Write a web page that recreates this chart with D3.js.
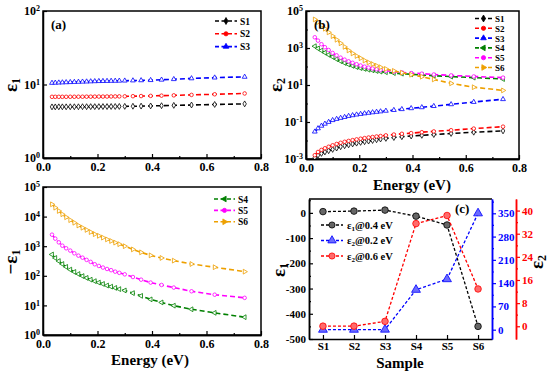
<!DOCTYPE html>
<html>
<head>
<meta charset="utf-8">
<script src="https://cdnjs.cloudflare.com/ajax/libs/d3/7.8.5/d3.min.js"></script>
<style>
body { margin: 0; background: #fff; }
text { font-family: "Liberation Serif", "Times New Roman", serif; font-weight: bold; }
</style>
</head>
<body>
<script>

// photon energy (eV), shared by all curves
var energy = [0.033,0.045,0.058,0.071,0.085,0.1,0.115,0.13,0.145,0.16,0.175,0.19,0.205,0.22,0.235,0.25,0.265,0.28,0.3,0.33,0.36,0.395,0.435,0.48,0.545,0.63,0.74];

// (a) eps1, S1-S3
var eps1S1 = [4.96,4.96,4.97,4.97,4.97,4.98,4.98,4.98,4.99,4.99,5.0,5.0,5.0,5.01,5.01,5.02,5.02,5.03,5.04,5.06,5.08,5.11,5.15,5.2,5.26,5.35,5.45];
var eps1S2 = [6.8,6.8,6.8,6.8,6.8,6.81,6.81,6.82,6.82,6.83,6.83,6.84,6.85,6.85,6.86,6.87,6.88,6.89,6.9,6.93,6.96,7.0,7.05,7.12,7.22,7.36,7.55];
var eps1S3 = [10.5,10.55,10.6,10.65,10.7,10.75,10.8,10.85,10.9,10.95,11.0,11.05,11.1,11.12,11.15,11.18,11.2,11.23,11.27,11.33,11.38,11.45,11.6,11.8,12.1,12.4,12.7];

// -eps1, S4-S6
var negEps1S4 = [525,400,315,250,200,162,135,115,98,85,74,66,59,53,47,43,39,35.5,32,26,21,16,12.6,9.8,7.4,5.6,4.0];
var negEps1S5 = [2450,1800,1350,1040,850,710,575,480,410,345,295,245,215,190,170,155,138,126,112,91,74,59,49,40,30,23,18];
var negEps1S6 = [26000,20000,15500,12000,9500,7600,6200,5000,4200,3550,3000,2550,2240,1950,1700,1500,1320,1170,1000,780,620,490,400,325,250,195,138];

// (b) eps2, S1-S6
var eps2S1 = [0.0012,0.0016,0.002,0.0024,0.0028,0.0033,0.0039,0.0046,0.0052,0.0058,0.0065,0.0072,0.0079,0.0086,0.0093,0.010,0.011,0.012,0.013,0.0145,0.016,0.0175,0.019,0.021,0.024,0.028,0.033];
var eps2S2 = [0.0016,0.0024,0.0031,0.0038,0.0046,0.0055,0.0065,0.0075,0.0085,0.0095,0.0105,0.0115,0.0125,0.0135,0.0145,0.0155,0.0165,0.0175,0.019,0.021,0.023,0.025,0.028,0.031,0.036,0.044,0.056];
var eps2S3 = [0.030,0.045,0.062,0.08,0.1,0.125,0.145,0.165,0.185,0.21,0.23,0.25,0.27,0.29,0.31,0.33,0.35,0.37,0.40,0.44,0.49,0.55,0.62,0.72,0.9,1.2,1.7];
var eps2S4 = [1250,950,730,560,430,330,250,195,155,128,108,93,82,74,67,62,57,53,49,44,41,38,35,32,28.5,25,21];
var eps2S5 = [3800,2500,1600,1100,780,540,400,300,235,190,158,133,113,98,87,78,71,65,59,53,48,44,41,37,33,29,25];
var eps2S6 = [35000,25000,16600,11000,7000,4400,2800,1800,1150,740,510,370,280,210,165,135,110,91,74,58,46,36,28,20,12.3,7.6,5.1];

// (c) values per sample
var samples = ["S1","S2","S3","S4","S5","S6"];
var eps1At04 = [5, 7, 11, -13, -48, -450];
var eps2At02 = [0, 0, 0.3, 120, 152, 350];
var eps2At06 = [0.04, 0.05, 1.7, 35.5, 38.3, 12.9];

var colors = { S1: "#000000", S2: "#ff0000", S3: "#0000ff", S4: "#008000", S5: "#ff00ff", S6: "#eea000" };
var shapes = { S1: "diamond", S2: "circle", S3: "up", S4: "left", S5: "circle", S6: "right" };

var svg = d3.select("body").append("svg")
	.attr("width", 550)
	.attr("height", 373);

function marker(g, shape, size, stroke, fill, cx, cy) {
	var type = shape == "diamond" ? d3.symbolDiamond : shape == "circle" ? d3.symbolCircle : d3.symbolTriangle;
	var rot = shape == "left" ? -90 : shape == "right" ? 90 : 0;
	g.append("path")
		.attr("d", d3.symbol().type(type).size(size)())
		.attr("transform", "translate(" + cx + "," + cy + ") rotate(" + rot + ")")
		.attr("fill", fill)
		.attr("stroke", stroke)
		.attr("stroke-width", 0.8);
}

function supLabels(g) {
	g.selectAll(".tick text").each(function (d) {
		var e = Math.round(Math.log10(d));
		var t = d3.select(this).text("10");
		t.append("tspan").attr("dy", "-0.5em").attr("font-size", "8px").text(e);
	});
}

function styleAxis(g, color) {
	g.attr("font-size", 12);
	g.select(".domain").attr("stroke", color).attr("stroke-width", 1.5);
	g.selectAll(".tick line").attr("stroke", color).attr("stroke-width", 1.2);
	g.selectAll(".tick text").attr("fill", color);
}

function logPanel(p) {
	var x = d3.scaleLinear().domain([0, 0.8]).range([p.x0, p.x1]);
	var y = d3.scaleLog().domain(p.yDomain).range([p.y1, p.y0]);
	var clipId = "clip" + p.name;

	svg.append("clipPath").attr("id", clipId)
		.append("rect").attr("x", p.x0).attr("y", p.y0).attr("width", p.x1 - p.x0).attr("height", p.y1 - p.y0);

	// x axis
	var gx = svg.append("g").attr("transform", "translate(0," + p.y1 + ")")
		.call(d3.axisBottom(x).tickValues([0, 0.2, 0.4, 0.6, 0.8]).tickFormat(d3.format(".1f")).tickSizeInner(-4).tickSizeOuter(0).tickPadding(4));
	styleAxis(gx, "#000");
	var gxm = svg.append("g").attr("transform", "translate(0," + p.y1 + ")")
		.call(d3.axisBottom(x).tickValues([0.1, 0.3, 0.5, 0.7]).tickFormat("").tickSizeInner(-2).tickSizeOuter(0));
	styleAxis(gxm, "#000");

	// y axis
	var gy = svg.append("g").attr("transform", "translate(" + p.x0 + ",0)")
		.call(d3.axisLeft(y).tickValues(p.yTicks).tickSizeInner(-4).tickSizeOuter(0).tickPadding(3));
	styleAxis(gy, "#000");
	supLabels(gy);
	if (p.yMinor) {
		var gym = svg.append("g").attr("transform", "translate(" + p.x0 + ",0)")
			.call(d3.axisLeft(y).tickValues(p.yMinor).tickFormat("").tickSizeInner(-2).tickSizeOuter(0));
		styleAxis(gym, "#000");
	}

	svg.append("rect")
		.attr("x", p.x0).attr("y", p.y0)
		.attr("width", p.x1 - p.x0).attr("height", p.y1 - p.y0)
		.attr("fill", "none").attr("stroke", "#000").attr("stroke-width", 1.5);

	var line = d3.line()
		.x(function (d, i) { return x(energy[i]); })
		.y(function (d) { return y(d); });

	var plot = svg.append("g").attr("clip-path", "url(#" + clipId + ")");
	p.series.forEach(function (s) {
		var c = colors[s.name];
		plot.append("path")
			.attr("d", line(s.values))
			.attr("fill", "none")
			.attr("stroke", c)
			.attr("stroke-width", 1.6)
			.attr("stroke-dasharray", "5,3");
		s.values.forEach(function (v, i) {
			marker(plot, shapes[s.name], 10, c, "#fff", x(energy[i]), y(v));
		});
	});

	// legend
	p.series.forEach(function (s, i) {
		var ly = p.legY + i * p.legDy;
		var c = colors[s.name];
		svg.append("line")
			.attr("x1", p.legX).attr("x2", p.legX + p.legW)
			.attr("y1", ly).attr("y2", ly)
			.attr("stroke", c).attr("stroke-width", 1.6).attr("stroke-dasharray", "4,2.5");
		marker(svg, shapes[s.name], 14, c, c, p.legX + p.legW / 2, ly);
		svg.append("text")
			.attr("x", p.legX + p.legW + 3).attr("y", ly + 3.5)
			.attr("font-size", p.legFont)
			.text(s.name);
	});

	svg.append("text")
		.attr("x", p.x0 + 8).attr("y", p.y0 + 18)
		.attr("font-size", 13)
		.text(p.tag);
}

logPanel({
	name: "a", tag: "(a)",
	x0: 43, x1: 261, y0: 11, y1: 158,
	yDomain: [1, 100], yTicks: [1, 10, 100],
	series: [{ name: "S1", values: eps1S1 }, { name: "S2", values: eps1S2 }, { name: "S3", values: eps1S3 }],
	legX: 215, legW: 22, legY: 21, legDy: 12.8, legFont: 9.5
});

logPanel({
	name: "b", tag: "(b)",
	x0: 306, x1: 519, y0: 11, y1: 159,
	yDomain: [1e-3, 1e5], yTicks: [1e-3, 1e-1, 10, 1e3, 1e5], yMinor: [1e-2, 1, 100, 1e4],
	series: [{ name: "S1", values: eps2S1 }, { name: "S2", values: eps2S2 }, { name: "S3", values: eps2S3 },
		{ name: "S4", values: eps2S4 }, { name: "S5", values: eps2S5 }, { name: "S6", values: eps2S6 }],
	legX: 475, legW: 17, legY: 18.5, legDy: 9.8, legFont: 9
});

logPanel({
	name: "d", tag: "",
	x0: 43, x1: 261, y0: 187, y1: 335,
	yDomain: [1, 1e5], yTicks: [1, 10, 100, 1e3, 1e4, 1e5],
	series: [{ name: "S4", values: negEps1S4 }, { name: "S5", values: negEps1S5 }, { name: "S6", values: negEps1S6 }],
	legX: 214, legW: 21, legY: 199, legDy: 11.4, legFont: 9.5
});

// axis titles, rotated
function yTitle(x, y, pre, sub) {
	var t = svg.append("text")
		.attr("transform", "translate(" + x + "," + y + ") rotate(-90)")
		.attr("text-anchor", "middle")
		.attr("font-size", 19)
		.attr("font-weight", "normal")
		.text(pre);
	t.append("tspan").attr("font-size", 12).attr("dy", 3).text(sub);
	return t;
}
yTitle(17, 85, "ε", "1");
yTitle(282, 85, "ε", "2");
yTitle(17, 262, "−ε", "1");

svg.append("text").attr("x", 412).attr("y", 190).attr("text-anchor", "middle").attr("font-size", 15).text("Energy (eV)");
svg.append("text").attr("x", 150).attr("y", 365).attr("text-anchor", "middle").attr("font-size", 15).text("Energy (eV)");

// ---- panel (c) ----
var cx0 = 309, cx1 = 492, cy0 = 199, cy1 = 339;
var xc = d3.scalePoint().domain(samples).range([cx0, cx1]).padding(0.45);
var yL = d3.scaleLinear().domain([-500, 55]).range([cy1, cy0]);
var yB = d3.scaleLinear().domain([-28, 393]).range([cy1, cy0]);
var yR = d3.scaleLinear().domain([-4.4, 44]).range([cy1, cy0]);

var gcx = svg.append("g").attr("transform", "translate(0," + cy1 + ")")
	.call(d3.axisBottom(xc).tickSizeInner(-4).tickSizeOuter(0).tickPadding(3));
styleAxis(gcx, "#000");
gcx.attr("font-size", 11);

var gcl = svg.append("g").attr("transform", "translate(" + cx0 + ",0)")
	.call(d3.axisLeft(yL).tickValues([0, -100, -200, -300, -400, -500]).tickFormat(function (d) { return String(d); })
		.tickSizeInner(-4).tickSizeOuter(0).tickPadding(3));
styleAxis(gcl, "#000");
gcl.attr("font-size", 11);
var gclm = svg.append("g").attr("transform", "translate(" + cx0 + ",0)")
	.call(d3.axisLeft(yL).tickValues([50, -50, -150, -250, -350, -450]).tickFormat("").tickSizeInner(-2).tickSizeOuter(0));
styleAxis(gclm, "#000");

svg.append("line").attr("x1", cx0).attr("x2", cx1).attr("y1", cy0).attr("y2", cy0)
	.attr("stroke", "#000").attr("stroke-width", 1.5);

var gcb = svg.append("g").attr("transform", "translate(" + cx1 + ",0)")
	.call(d3.axisRight(yB).tickValues([0, 70, 140, 210, 280, 350]).tickSizeInner(4).tickSizeOuter(0).tickPadding(2));
styleAxis(gcb, "#0000ff");
gcb.attr("font-size", 11);
var gcbm = svg.append("g").attr("transform", "translate(" + cx1 + ",0)")
	.call(d3.axisRight(yB).tickValues([35, 105, 175, 245, 315, 385]).tickFormat("").tickSizeInner(2).tickSizeOuter(0));
styleAxis(gcbm, "#0000ff");

var gcr = svg.append("g").attr("transform", "translate(516,0)")
	.call(d3.axisRight(yR).tickValues([0, 8, 16, 24, 32, 40]).tickSizeInner(4).tickSizeOuter(0).tickPadding(2));
styleAxis(gcr, "#ff0000");
gcr.attr("font-size", 11);
var gcrm = svg.append("g").attr("transform", "translate(516,0)")
	.call(d3.axisRight(yR).tickValues([4, 12, 20, 28, 36]).tickFormat("").tickSizeInner(2).tickSizeOuter(0));
styleAxis(gcrm, "#ff0000");

var cSeries = [
	{ values: eps1At04, y: yL, color: "#000000", fill: "#666666", shape: "circle", lab: ["ε", "1", "@0.4 eV"] },
	{ values: eps2At02, y: yB, color: "#0000ff", fill: "#6b6bff", shape: "up", lab: ["ε", "2", "@0.2 eV"] },
	{ values: eps2At06, y: yR, color: "#ff0000", fill: "#ff6b6b", shape: "circle", lab: ["ε", "2", "@0.6 eV"] }
];

cSeries.forEach(function (s, k) {
	var line = d3.line()
		.x(function (d, i) { return xc(samples[i]); })
		.y(function (d) { return s.y(d); });
	svg.append("path")
		.attr("d", line(s.values))
		.attr("fill", "none")
		.attr("stroke", s.color)
		.attr("stroke-width", 1.3)
		.attr("stroke-dasharray", "3,2");
	s.values.forEach(function (v, i) {
		marker(svg, s.shape, 34, s.color, s.fill, xc(samples[i]), s.y(v));
	});

	// legend row
	var ly = 225 + k * 15.5;
	svg.append("line").attr("x1", 321).attr("x2", 343).attr("y1", ly).attr("y2", ly)
		.attr("stroke", s.color).attr("stroke-width", 1.3).attr("stroke-dasharray", "3,2");
	marker(svg, s.shape, 30, s.color, s.fill, 332, ly);
	var t = svg.append("text").attr("x", 347).attr("y", ly + 3.5).attr("font-size", 10.5).text(s.lab[0]);
	t.append("tspan").attr("font-size", 7).attr("dy", 2).text(s.lab[1]);
	t.append("tspan").attr("dy", -2).text(s.lab[2]);
});

svg.append("text").attr("x", 455).attr("y", 213).attr("font-size", 13).text("(c)");
svg.append("text").attr("x", 400).attr("y", 368).attr("text-anchor", "middle").attr("font-size", 15).text("Sample");
yTitle(285, 270, "ε", "1");
yTitle(543, 262, "ε", "2");

</script>
</body>
</html>
